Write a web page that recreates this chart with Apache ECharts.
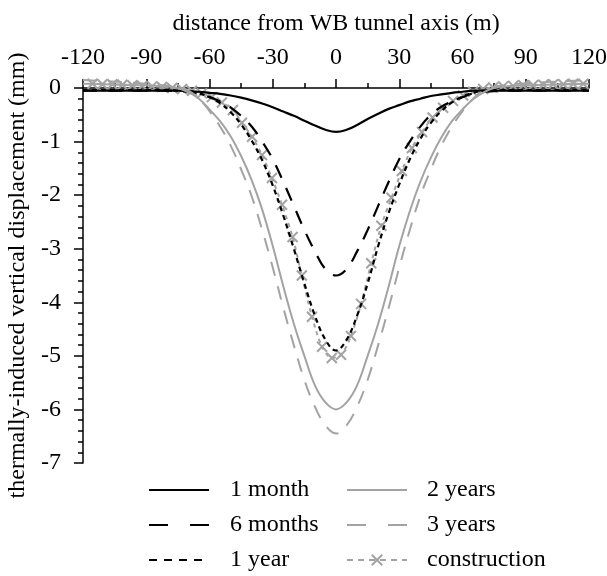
<!DOCTYPE html>
<html>
<head>
<meta charset="utf-8">
<script src="https://cdn.jsdelivr.net/npm/echarts@6/dist/echarts.min.js"></script>
<style>
html,body{margin:0;padding:0;background:#fff;}
#chart{width:607px;height:576px;}
</style>
</head>
<body>
<div id="chart"></div>
<script>
// grid x positions (m) for the smooth curves
var xs = [-120,-110,-100,-90,-80,-75,-70,-65,-60,-55,-50,-45,-40,-35,-30,-25,-20,-15,-10,-5,0,5,10,15,20,25,30,35,40,45,50,55,60,65,70,75,80,90,100,110,120];
var month1 = [-0.05,-0.05,-0.05,-0.05,-0.05,-0.05,-0.06,-0.07,-0.09,-0.11,-0.14,-0.18,-0.23,-0.29,-0.36,-0.44,-0.52,-0.61,-0.7,-0.78,-0.82,-0.78,-0.69,-0.58,-0.48,-0.39,-0.32,-0.25,-0.2,-0.15,-0.12,-0.09,-0.07,-0.05,-0.05,-0.05,-0.05,-0.05,-0.05,-0.05,-0.05];
var months6 = [-0.05,-0.05,-0.05,-0.05,-0.05,-0.06,-0.07,-0.1,-0.17,-0.25,-0.36,-0.52,-0.72,-1.0,-1.33,-1.75,-2.2,-2.65,-3.05,-3.38,-3.5,-3.38,-3.05,-2.65,-2.2,-1.75,-1.33,-1.0,-0.72,-0.5,-0.35,-0.25,-0.17,-0.1,-0.07,-0.06,-0.05,-0.05,-0.05,-0.05,-0.05];
var year1 = [-0.04,-0.04,-0.04,-0.04,-0.04,-0.05,-0.06,-0.1,-0.17,-0.28,-0.45,-0.68,-0.98,-1.35,-1.82,-2.38,-3.0,-3.65,-4.25,-4.7,-4.9,-4.7,-4.25,-3.65,-2.95,-2.33,-1.8,-1.33,-0.95,-0.65,-0.43,-0.27,-0.16,-0.09,-0.05,-0.04,-0.04,-0.04,-0.04,-0.04,-0.04];
var years2 = [0.08,0.07,0.06,0.05,0.03,0.0,-0.08,-0.2,-0.4,-0.62,-0.9,-1.27,-1.72,-2.27,-2.95,-3.7,-4.4,-5.0,-5.55,-5.87,-6.0,-5.87,-5.55,-5.0,-4.4,-3.7,-2.95,-2.3,-1.75,-1.3,-0.92,-0.62,-0.4,-0.21,-0.08,0.0,0.03,0.05,0.06,0.07,0.08];
var years3 = [0.15,0.13,0.11,0.08,0.04,0.02,-0.05,-0.2,-0.43,-0.72,-1.07,-1.52,-2.02,-2.65,-3.35,-4.1,-4.8,-5.45,-5.95,-6.3,-6.45,-6.3,-5.95,-5.45,-4.8,-4.1,-3.35,-2.65,-2.02,-1.52,-1.07,-0.72,-0.43,-0.2,-0.05,0.02,0.05,0.09,0.11,0.13,0.15];
// construction markers (own x positions)
var constrX = [-115.5,-110.8,-106.1,-101.3,-96.6,-91.9,-87.2,-82.5,-77.7,-73.0,-68.3,-63.6,-58.9,-54.1,-48.9,-44.6,-39.8,-35.1,-30.4,-25.6,-20.6,-16.2,-11.4,-6.6,-2.0,2.4,7.1,11.9,16.7,21.5,26.3,31.2,36.0,40.8,45.8,50.8,55.5,60.3,65.0,69.8,74.5,79.3,84.0,88.8,93.5,98.3,103.0,107.8,112.5,117.3];
var constrY = [0.08,0.07,0.07,0.06,0.05,0.04,0.03,0.02,0.0,-0.02,-0.05,-0.1,-0.17,-0.27,-0.41,-0.65,-0.91,-1.25,-1.68,-2.18,-2.78,-3.5,-4.27,-4.83,-5.04,-4.98,-4.63,-4.03,-3.27,-2.57,-2.05,-1.55,-1.12,-0.82,-0.55,-0.37,-0.24,-0.14,-0.07,-0.02,0.01,0.03,0.04,0.05,0.05,0.06,0.07,0.07,0.08,0.08];
var xTicks = [-120,-90,-60,-30,0,30,60,90,120];
var yTicks = [0,-1,-2,-3,-4,-5,-6,-7];

function zip(a,b){ return a.map(function(v,i){ return [v,b[i]]; }); }

var FONT = 'Liberation Serif';
var BLACK = '#000';
var GRAY = '#a3a3a3';

var chart = echarts.init(document.getElementById('chart'), null, {renderer:'canvas'});

function lineSeries(name, ys, color, type, width){
  return {
    name: name, type: 'line', data: zip(xs, ys), smooth: 0.4,
    symbol: 'none', showSymbol: false, clip: false,
    itemStyle: {color: color},
    lineStyle: {color: color, width: width, type: type},
    z: 3
  };
}

var option = {
  animation: false,
  backgroundColor: '#fff',
  textStyle: {fontFamily: FONT},
  grid: {left: 83, right: 18, top: 88, bottom: 113, containLabel: false, outerBoundsMode: 'none'},
  xAxis: {
    type: 'value', position: 'top', min: -120, max: 120, interval: 30,
    name: 'distance from WB tunnel axis (m)', nameLocation: 'middle', nameGap: 52,
    nameTextStyle: {fontFamily: FONT, fontSize: 24, color: '#000'},
    axisLine: {show: true, onZero: false, lineStyle: {color: '#000', width: 1.5}},
    axisTick: {show: true, inside: false, length: 9, lineStyle: {color: '#000', width: 1.5}},
    minorTick: {show: true, splitNumber: 2, length: 5, lineStyle: {color: '#000', width: 1.5}},
    axisLabel: {fontFamily: FONT, fontSize: 24, color: '#000', margin: 18,
      formatter: function(v){ return xTicks.indexOf(v) >= 0 ? String(v) : ''; }},
    splitLine: {show: false}
  },
  yAxis: {
    type: 'value', min: -7, max: 0, interval: 1,
    name: 'thermally-induced vertical displacement (mm)', nameLocation: 'middle', nameGap: 50,
    nameRotate: 90,
    nameTextStyle: {fontFamily: FONT, fontSize: 24, color: '#000'},
    axisLine: {show: true, onZero: false, lineStyle: {color: '#000', width: 1.5}},
    axisTick: {show: true, inside: false, length: 9, lineStyle: {color: '#000', width: 1.5}},
    minorTick: {show: true, splitNumber: 5, length: 5, lineStyle: {color: '#000', width: 1.5}},
    axisLabel: {fontFamily: FONT, fontSize: 24, color: '#000', margin: 22,
      formatter: function(v){ return yTicks.indexOf(v) >= 0 ? String(v) : ''; }},
    splitLine: {show: false}
  },
  legend: [
    {
      orient: 'vertical', left: 148, top: 478, padding: 0,
      itemWidth: 60, itemHeight: 13, itemGap: 11,
      itemStyle: {opacity: 0},
      textStyle: {fontFamily: FONT, fontSize: 24, color: '#000', lineHeight: 24, padding: [0,0,0,16]},
      data: [
        {name: '1 month'},
        {name: '6 months', lineStyle: {type: [19, 22]}},
        {name: '1 year', lineStyle: {type: [8, 7]}}
      ]
    },
    {
      orient: 'vertical', left: 346, top: 478, padding: 0,
      itemWidth: 60, itemHeight: 13, itemGap: 11,
      textStyle: {fontFamily: FONT, fontSize: 24, color: '#000', lineHeight: 24, padding: [0,0,0,15]},
      data: [
        {name: '2 years', itemStyle: {opacity: 0}},
        {name: '3 years', itemStyle: {opacity: 0}, lineStyle: {type: [19, 22]}},
        {name: 'construction', lineStyle: {type: [6, 5]}}
      ]
    }
  ],
  series: [
    lineSeries('1 month', month1, BLACK, 'solid', 2.2),
    lineSeries('6 months', months6, BLACK, [14, 11], 2.2),
    lineSeries('1 year', year1, BLACK, [5, 4], 2.2),
    lineSeries('2 years', years2, GRAY, 'solid', 2),
    lineSeries('3 years', years3, GRAY, [14, 11], 2),
    {
      name: 'construction', type: 'line', data: zip(constrX, constrY), smooth: 0.3,
      clip: false,
      symbol: 'path://M0,0L10,10M10,0L0,10', symbolSize: 10, showSymbol: true,
      itemStyle: {color: 'rgba(0,0,0,0)', borderColor: GRAY, borderWidth: 2},
      lineStyle: {color: GRAY, width: 2, type: [4, 4]},
      z: 2
    }
  ]
};
chart.setOption(option);
</script>
</body>
</html>
